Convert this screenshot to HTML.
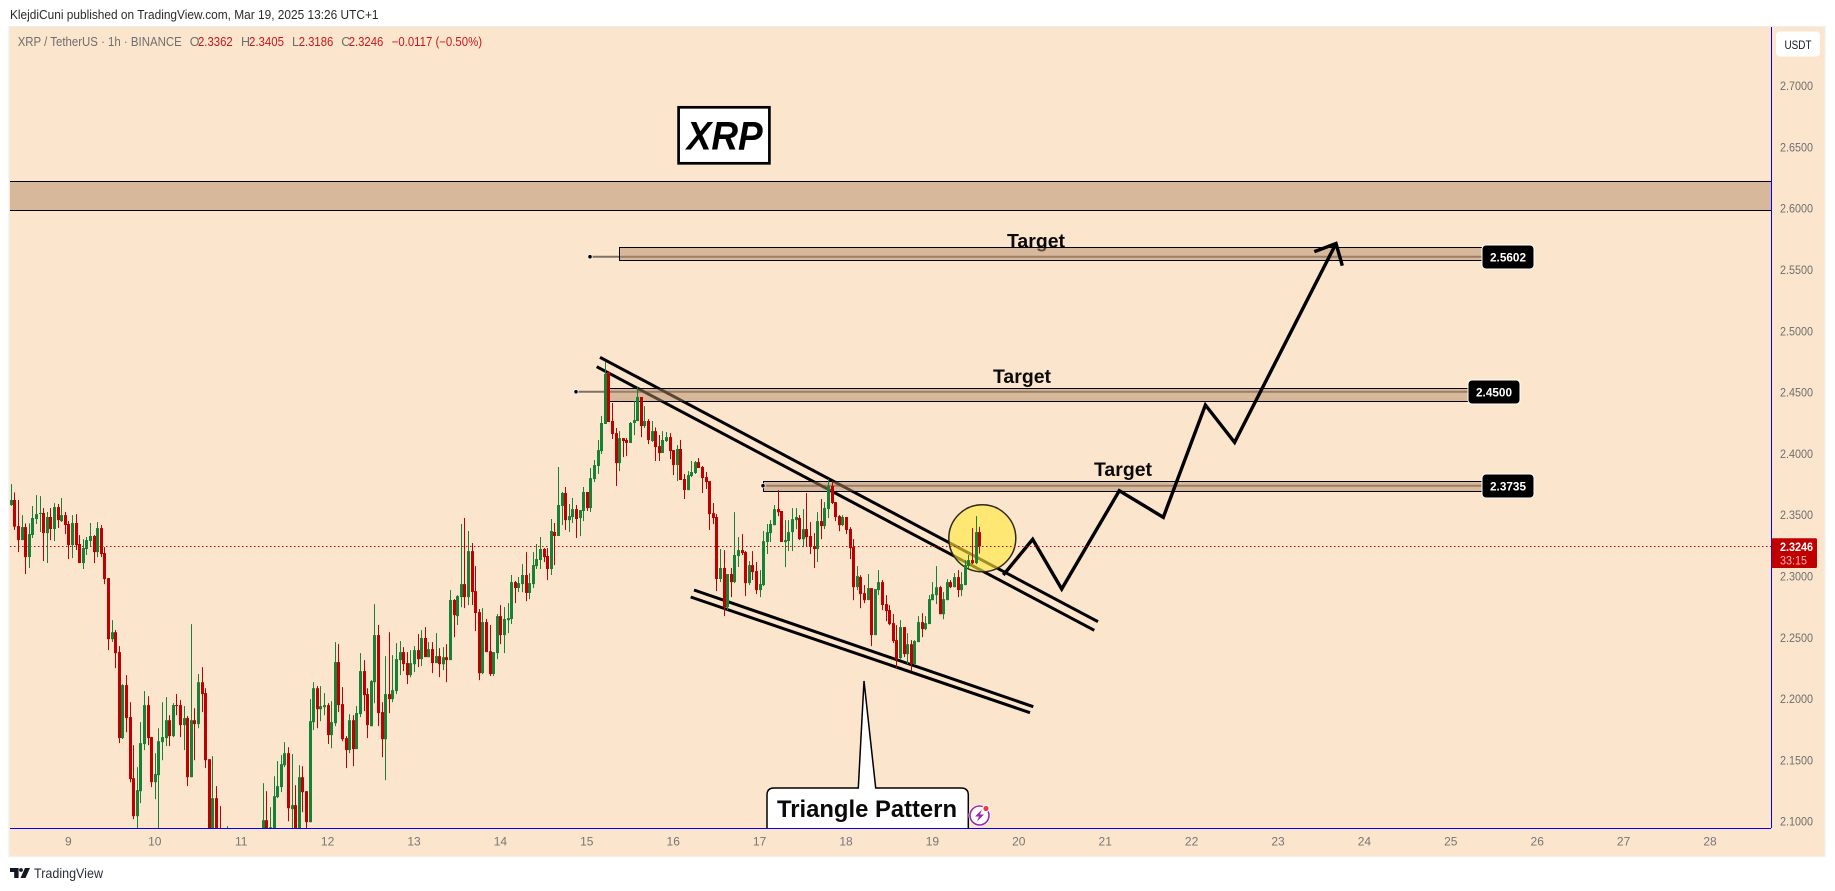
<!DOCTYPE html>
<html lang="en">
<head>
<meta charset="utf-8">
<title>XRP / TetherUS chart</title>
<style>
html,body{margin:0;padding:0;background:#fff;width:1835px;height:891px;overflow:hidden}
svg{display:block}
text{font-family:"Liberation Sans","DejaVu Sans",sans-serif}
</style>
</head>
<body>
<svg id="chart" xmlns="http://www.w3.org/2000/svg" width="1835" height="891" viewBox="0 0 1835 891">
  <defs>
    <clipPath id="plot-clip"><rect x="10" y="26" width="1761" height="802"/></clipPath>
  </defs>
  <text x="10" y="19" font-size="12.5" fill="#2a2a2a" textLength="368.5" lengthAdjust="spacingAndGlyphs">KlejdiCuni published on TradingView.com, Mar 19, 2025 13:26 UTC+1</text>
  <rect x="9" y="26.5" width="1816" height="830" fill="#fce5cd" stroke="#eeeeee" stroke-width="1"/>

  <g font-size="12.5">
    <text x="17.7" y="46" fill="#6e6e6e" textLength="164" lengthAdjust="spacingAndGlyphs">XRP / TetherUS · 1h · BINANCE</text>
    <text x="189.7" y="46" fill="#6e6e6e">O</text>
    <text x="198" y="46" fill="#c8161d" textLength="34.7" lengthAdjust="spacingAndGlyphs">2.3362</text>
    <text x="241" y="46" fill="#6e6e6e">H</text>
    <text x="249" y="46" fill="#c8161d" textLength="35" lengthAdjust="spacingAndGlyphs">2.3405</text>
    <text x="292" y="46" fill="#6e6e6e">L</text>
    <text x="298.7" y="46" fill="#c8161d" textLength="34.6" lengthAdjust="spacingAndGlyphs">2.3186</text>
    <text x="341.3" y="46" fill="#6e6e6e">C</text>
    <text x="348.7" y="46" fill="#c8161d" textLength="34.6" lengthAdjust="spacingAndGlyphs">2.3246</text>
    <text x="391.7" y="46" fill="#c8161d" textLength="90.3" lengthAdjust="spacingAndGlyphs">−0.0117 (−0.50%)</text>
  </g>

  <g clip-path="url(#plot-clip)">
    <g>
      <rect x="678.6" y="107.3" width="90.8" height="56" fill="#fff" stroke="#000" stroke-width="2.7"/>
      <text x="686.7" y="149.3" font-size="40" font-weight="700" font-style="italic" fill="#000" textLength="76" lengthAdjust="spacingAndGlyphs">XRP</text>
    </g>

    <g stroke="#000" stroke-width="3" fill="none">
      <line x1="600" y1="357.3" x2="1098" y2="621.7"/>
      <line x1="596.7" y1="366.7" x2="1094.3" y2="630.3"/>
      <line x1="694" y1="590" x2="1033.3" y2="706.7"/>
      <line x1="690.7" y1="597" x2="1030" y2="712.7"/>
    </g>

    <text x="1007" y="247.5" font-size="19" font-weight="700" fill="#0a0a0a" textLength="58" lengthAdjust="spacingAndGlyphs">Target</text>
    <text x="993" y="383" font-size="19" font-weight="700" fill="#0a0a0a" textLength="58" lengthAdjust="spacingAndGlyphs">Target</text>
    <text x="1094" y="476" font-size="19" font-weight="700" fill="#0a0a0a" textLength="58" lengthAdjust="spacingAndGlyphs">Target</text>

    <rect x="5" y="181.5" width="1770" height="29" fill="rgba(180,140,105,.5)" stroke="#000" stroke-width="1"/>

    <g>
      <line x1="590" y1="256.7" x2="1482" y2="256.7" stroke="rgba(0,0,0,.5)" stroke-width="2"/>
      <rect x="619.5" y="247.5" width="863" height="13" fill="rgba(180,140,105,.5)" stroke="#000" stroke-width="1"/>
      <circle cx="590" cy="256.7" r="2.2" fill="#000" stroke="#fff" stroke-width=".8"/>
    </g>
    <g>
      <line x1="576" y1="391.8" x2="1468" y2="391.8" stroke="rgba(0,0,0,.5)" stroke-width="2"/>
      <rect x="608.5" y="388.5" width="860" height="13" fill="rgba(180,140,105,.5)" stroke="#000" stroke-width="1"/>
      <circle cx="576" cy="391.8" r="2.2" fill="#000" stroke="#fff" stroke-width=".8"/>
    </g>
    <g>
      <line x1="763" y1="485.7" x2="1482" y2="485.7" stroke="rgba(0,0,0,.5)" stroke-width="2"/>
      <rect x="763.5" y="481.5" width="719" height="10" fill="rgba(180,140,105,.5)" stroke="#000" stroke-width="1"/>
      <circle cx="763" cy="485.7" r="2.2" fill="#000" stroke="#fff" stroke-width=".8"/>
    </g>

    <circle cx="982.3" cy="538.3" r="33.5" fill="rgba(255,232,60,.62)" stroke="#2b2a1c" stroke-width="1.5"/>

    <polyline points="1003.3,575 1032.7,539.3 1061.7,589 1119.3,490.7 1163.3,517.3 1205.4,405 1234.6,442.4 1336,243.5" fill="none" stroke="#000" stroke-width="3.4" stroke-linejoin="miter"/>
    <polyline points="1314.3,251.7 1336,243.5 1342.3,265.7" fill="none" stroke="#000" stroke-width="3.4"/>

    <line id="last-price-line" x1="10" x2="1771" stroke="#c00000" stroke-width="1" stroke-dasharray="1.5 2.5"/>

    <g id="candles"></g>

    <path d="M767 835V795Q767 788 774 788H858.3L864 681L875.7 788H961Q968.3 788 968.3 795V835Z" fill="#fff" stroke="#000" stroke-width="1.5"/>
    <text x="777" y="817" font-size="24" font-weight="700" fill="#0a0a0a" textLength="180" lengthAdjust="spacingAndGlyphs">Triangle Pattern</text>
  </g>

  <g>
    <circle cx="979.5" cy="815.5" r="11" fill="#fff"/>
    <circle cx="979.5" cy="815.5" r="9.5" fill="#fff" stroke="#9c27b0" stroke-width="1.6"/>
    <path d="M982 809.5L975 816.5H979L977 821.5L984 814.5H980Z" fill="#9c27b0"/>
    <circle cx="986" cy="808.5" r="3.2" fill="#f23645" stroke="#fff" stroke-width="1.2"/>
  </g>

  <g id="price-axis" font-size="12" fill="#6e6e6e"></g>
  <g id="time-axis" font-size="12" fill="#767676"></g>

  <line x1="1771.5" y1="27" x2="1771.5" y2="828" stroke="#0000ff" stroke-width="1"/>
  <line x1="10" y1="828.5" x2="1771" y2="828.5" stroke="#0000ff" stroke-width="1"/>

  <g>
    <rect x="1482" y="245" width="52" height="24" rx="4" fill="#000" stroke="#fff" stroke-width="1"/>
    <text x="1490" y="261.5" font-size="12" font-weight="700" fill="#fff" textLength="36" lengthAdjust="spacingAndGlyphs">2.5602</text>
  </g>
  <g>
    <rect x="1468" y="380" width="52" height="24" rx="4" fill="#000" stroke="#fff" stroke-width="1"/>
    <text x="1476" y="396.5" font-size="12" font-weight="700" fill="#fff" textLength="36" lengthAdjust="spacingAndGlyphs">2.4500</text>
  </g>
  <g>
    <rect x="1482" y="474" width="52" height="24" rx="4" fill="#000" stroke="#fff" stroke-width="1"/>
    <text x="1490" y="490.5" font-size="12" font-weight="700" fill="#fff" textLength="36" lengthAdjust="spacingAndGlyphs">2.3735</text>
  </g>

  <g>
    <rect x="1771.5" y="538.3" width="45.5" height="29.7" rx="1.5" fill="#c00000"/>
    <text x="1780" y="551" font-size="12" font-weight="700" fill="#fff" textLength="33" lengthAdjust="spacingAndGlyphs">2.3246</text>
    <text x="1780" y="564.3" font-size="12" fill="#f3b3b3" textLength="27" lengthAdjust="spacingAndGlyphs">33:15</text>
  </g>

  <g>
    <rect x="1776" y="31.5" width="44" height="25" rx="4" fill="#fff"/>
    <text x="1798" y="49" font-size="12" fill="#131722" text-anchor="middle" textLength="27" lengthAdjust="spacingAndGlyphs">USDT</text>
  </g>

  <g>
    <path d="M10 868h8.6v10h-4.4v-6H10z" fill="#131722"/>
    <circle cx="21" cy="870" r="1.9" fill="#131722"/>
    <path d="M25 868h5l-4.5 10h-5z" fill="#131722"/>
    <text x="34" y="878" font-size="14" fill="#2a2e39" textLength="69" lengthAdjust="spacingAndGlyphs">TradingView</text>
  </g>
</svg>

<script>
const opens=[
2.3583,2.3624,2.3411,2.3297,2.3403,2.3158,2.3338,2.3469,2.3512,2.3518,
2.3354,2.3485,2.3387,2.3566,2.3452,2.3501,2.3428,2.3256,2.3436,2.3265,
2.3110,2.3224,2.3289,2.3330,2.3199,2.3395,2.3191,2.2987,2.2489,2.2546,
2.2383,2.1682,2.2114,2.1853,2.1355,2.1045,2.1249,2.1633,2.1951,2.1690,
2.1322,2.1380,2.1649,2.1682,2.1828,2.1698,2.1951,2.1951,2.1788,2.1845,
2.1363,2.1828,2.1796,2.2138,2.2049,2.1510,2.0800,2.1192,2.0900,2.0700,
2.0650,2.0800,2.0700,2.0820,2.0720,2.0830,2.0730,2.0840,2.0750,2.0860,
2.0880,2.1012,2.0900,2.0900,2.1200,2.1282,2.1461,2.1559,2.1102,2.1135,
2.0900,2.1363,2.1249,2.0996,2.1812,2.2089,2.1918,2.1934,2.1951,2.1706,
2.1804,2.2302,2.1959,2.1682,2.1584,2.1828,2.1592,2.1877,2.2228,2.2041,
2.1779,2.2138,2.2522,2.1894,2.1673,2.2041,2.2000,2.2065,2.2318,2.2383,
2.2294,2.2196,2.2285,2.2400,2.2326,2.2498,2.2342,2.2408,2.2294,2.2351,
2.2285,2.2342,2.2318,2.2808,2.2677,2.2832,2.2938,2.2832,2.3207,2.2881,
2.2710,2.2212,2.2628,2.2391,2.2204,2.2375,2.2677,2.2522,2.2644,2.2653,
2.2954,2.2906,2.2938,2.3012,2.2865,2.2938,2.3085,2.3134,2.3224,2.3167,
2.3061,2.3363,2.3330,2.3575,2.3681,2.3460,2.3485,2.3550,2.3477,2.3534,
2.3689,2.3558,2.3795,2.3901,2.4023,2.4244,2.4668,2.4268,2.4170,2.3925,
2.4129,2.4113,2.4089,2.4252,2.4268,2.4464,2.4227,2.4268,2.4105,2.4186,
2.4064,2.4007,2.4105,2.4137,2.4031,2.3909,2.4040,2.3795,2.3705,2.3819,
2.3844,2.3933,2.3893,2.3811,2.3778,2.3517,2.3485,2.2979,2.3069,2.2750,
2.3020,2.2954,2.3166,2.3215,2.3199,2.2946,2.3093,2.3044,2.2889,2.2930,
2.3281,2.3354,2.3419,2.3550,2.3534,2.3281,2.3289,2.3362,2.3460,2.3477,
2.3305,2.3387,2.3330,2.3248,2.3224,2.3452,2.3411,2.3550,2.3738,2.3607,
2.3493,2.3419,2.3485,2.3387,2.3240,2.2913,2.2995,2.2865,2.2807,2.2905,
2.2522,2.2889,2.2954,2.2775,2.2726,2.2620,2.2481,2.2334,2.2587,2.2367,
2.2448,2.2285,2.2465,2.2628,2.2571,2.2612,2.2807,2.2848,2.2913,2.2693,
2.2807,2.2954,2.2913,2.2995,2.2889,2.2930,2.3085,2.3134,2.3109,2.3362];
const highs=[
2.3754,2.3686,2.3624,2.3501,2.3433,2.3433,2.3575,2.3664,2.3656,2.3558,
2.3526,2.3558,2.3599,2.3591,2.3640,2.3526,2.3452,2.3501,2.3509,2.3338,
2.3305,2.3322,2.3436,2.3338,2.3444,2.3420,2.3240,2.2987,2.2644,2.2563,
2.2432,2.2122,2.2196,2.1975,2.1624,2.1445,2.1812,2.2065,2.2024,2.1690,
2.1559,2.1763,2.1975,2.2016,2.1869,2.1967,2.2041,2.1992,2.1943,2.1861,
2.2612,2.1926,2.2204,2.2261,2.2089,2.1510,2.1535,2.1290,2.1127,2.0900,
2.0964,2.0850,2.0880,2.0870,2.0890,2.0880,2.0900,2.0900,2.0910,2.0920,
2.1314,2.1249,2.1118,2.1371,2.1494,2.1543,2.1649,2.1608,2.1551,2.1298,
2.1461,2.1453,2.1249,2.2000,2.2138,2.2106,2.2106,2.2049,2.1967,2.1983,
2.2465,2.2449,2.2098,2.1698,2.1877,2.1869,2.1943,2.2375,2.2318,2.2089,
2.2155,2.2775,2.2604,2.1975,2.2351,2.2546,2.2359,2.2457,2.2473,2.2424,
2.2383,2.2400,2.2432,2.2530,2.2563,2.2587,2.2465,2.2465,2.2538,2.2416,
2.2424,2.2449,2.2889,2.2816,2.2848,2.3428,2.3477,2.3371,2.3273,2.3085,
2.2734,2.2742,2.2653,2.2604,2.2383,2.2693,2.2767,2.2750,2.2783,2.3012,
2.2963,2.2995,2.3101,2.3199,2.3028,2.3199,2.3265,2.3322,2.3232,2.3232,
2.3469,2.3436,2.3893,2.3689,2.3730,2.3591,2.3640,2.3583,2.3542,2.3730,
2.3689,2.3885,2.3950,2.4113,2.4309,2.4749,2.4676,2.4415,2.4211,2.4186,
2.4129,2.4129,2.4260,2.4431,2.4545,2.4464,2.4390,2.4284,2.4268,2.4216,
2.4154,2.4186,2.4178,2.4170,2.4031,2.4072,2.4113,2.3836,2.3860,2.3942,
2.3942,2.3966,2.3901,2.3852,2.3778,2.3599,2.3509,2.3224,2.3215,2.3020,
2.3069,2.3525,2.3321,2.3346,2.3207,2.3126,2.3207,2.3118,2.3052,2.3370,
2.3428,2.3460,2.3583,2.3705,2.3534,2.3460,2.3460,2.3558,2.3558,2.3501,
2.3550,2.3681,2.3444,2.3354,2.3525,2.3632,2.3607,2.3795,2.3778,2.3607,
2.3501,2.3501,2.3485,2.3403,2.3305,2.3085,2.3011,2.2930,2.3020,2.2905,
2.2897,2.3052,2.2971,2.2848,2.2767,2.2693,2.2603,2.2644,2.2587,2.2538,
2.2481,2.2481,2.2677,2.2701,2.2677,2.2848,2.2954,2.3085,2.2922,2.2873,
2.2979,2.2971,2.3028,2.3052,2.3036,2.3134,2.3175,2.3395,2.3493,2.3405];
const lows=[
2.3575,2.3379,2.3199,2.3297,2.3020,2.3069,2.3314,2.3428,2.3363,2.3126,
2.3110,2.3297,2.3289,2.3395,2.3444,2.3346,2.3142,2.3150,2.3216,2.3110,
2.3061,2.3175,2.3248,2.3110,2.3158,2.3158,2.2938,2.2400,2.2465,2.2253,
2.1641,2.1673,2.1730,2.1322,2.1021,2.0931,2.1151,2.1584,2.1624,2.1282,
2.1184,2.0917,2.1502,2.1616,2.1616,2.1690,2.1869,2.1690,2.1584,2.1290,
2.1363,2.1502,2.1763,2.1894,2.1437,2.0700,2.0720,2.0750,2.0600,2.0500,
2.0580,2.0620,2.0640,2.0650,2.0660,2.0670,2.0680,2.0700,2.0710,2.0780,
2.0800,2.0820,2.0850,2.0850,2.1192,2.1241,2.1445,2.1004,2.0917,2.0850,
2.0850,2.1078,2.0917,2.0996,2.1747,2.1763,2.1820,2.1869,2.1633,2.1600,
2.1779,2.1894,2.1657,2.1437,2.1559,2.1453,2.1592,2.1853,2.1902,2.1682,
2.1779,2.1967,2.1779,2.1526,2.1339,2.1886,2.1975,2.2041,2.2196,2.2228,
2.2122,2.2179,2.2220,2.2261,2.2269,2.2342,2.2342,2.2212,2.2294,2.2179,
2.2236,2.2138,2.2318,2.2506,2.2604,2.2750,2.2742,2.2767,2.2767,2.2555,
2.2155,2.2204,2.2383,2.2187,2.2187,2.2326,2.2449,2.2375,2.2538,2.2612,
2.2783,2.2873,2.2873,2.2799,2.2816,2.2906,2.3061,2.3061,2.3118,2.2971,
2.3012,2.3093,2.3330,2.3420,2.3379,2.3363,2.3436,2.3314,2.3330,2.3452,
2.3534,2.3526,2.3770,2.3836,2.3999,2.4244,2.4260,2.4121,2.3738,2.3860,
2.3974,2.3982,2.4089,2.4154,2.4268,2.4137,2.4211,2.4080,2.4097,2.3942,
2.3942,2.4007,2.4097,2.3958,2.3827,2.3778,2.3787,2.3632,2.3705,2.3811,
2.3836,2.3885,2.3681,2.3713,2.3379,2.3428,2.2881,2.2954,2.2677,2.2726,
2.2832,2.2946,2.3077,2.3175,2.2840,2.2930,2.2971,2.2856,2.2832,2.2922,
2.3183,2.3281,2.3419,2.3493,2.3281,2.3077,2.3207,2.3207,2.3387,2.3297,
2.3240,2.3248,2.3183,2.3069,2.3118,2.3305,2.3387,2.3477,2.3591,2.3452,
2.3370,2.3411,2.3346,2.3142,2.2807,2.2889,2.2742,2.2783,2.2807,2.2432,
2.2522,2.2848,2.2726,2.2636,2.2603,2.2457,2.2253,2.2318,2.2342,2.2285,
2.2228,2.2277,2.2465,2.2506,2.2563,2.2612,2.2807,2.2775,2.2693,2.2652,
2.2807,2.2905,2.2913,2.2832,2.2840,2.2930,2.3068,2.3101,2.3101,2.3186];
const closes=[
2.3624,2.3406,2.3297,2.3403,2.3158,2.3346,2.3477,2.3509,2.3518,2.3354,
2.3485,2.3387,2.3566,2.3460,2.3501,2.3420,2.3256,2.3436,2.3256,2.3110,
2.3232,2.3297,2.3330,2.3199,2.3395,2.3183,2.2979,2.2489,2.2546,2.2375,
2.1682,2.2114,2.1845,2.1347,2.1045,2.1257,2.1641,2.1951,2.1682,2.1322,
2.1388,2.1657,2.1690,2.1828,2.1698,2.1951,2.1943,2.1788,2.1845,2.1363,
2.1828,2.1796,2.2138,2.2041,2.1502,2.0800,2.1192,2.0850,2.0700,2.0600,
2.0800,2.0700,2.0820,2.0720,2.0830,2.0730,2.0840,2.0750,2.0860,2.0880,
2.1012,2.0900,2.0955,2.1208,2.1290,2.1469,2.1559,2.1110,2.1135,2.0900,
2.1363,2.1241,2.0996,2.1820,2.2089,2.1918,2.1943,2.1951,2.1706,2.1812,
2.2302,2.1951,2.1673,2.1584,2.1828,2.1592,2.1886,2.2228,2.2032,2.1788,
2.2147,2.2522,2.1886,2.1673,2.2041,2.2000,2.2073,2.2326,2.2383,2.2285,
2.2196,2.2294,2.2400,2.2326,2.2498,2.2342,2.2408,2.2294,2.2351,2.2285,
2.2342,2.2318,2.2808,2.2685,2.2840,2.2938,2.2832,2.3207,2.2873,2.2702,
2.2212,2.2628,2.2383,2.2204,2.2383,2.2677,2.2522,2.2653,2.2661,2.2954,
2.2906,2.2946,2.3012,2.2865,2.2946,2.3093,2.3142,2.3224,2.3158,2.3061,
2.3371,2.3330,2.3583,2.3681,2.3460,2.3493,2.3550,2.3469,2.3542,2.3689,
2.3558,2.3803,2.3909,2.4031,2.4252,2.4652,2.4260,2.4162,2.3925,2.4129,
2.4105,2.4089,2.4252,2.4276,2.4464,2.4227,2.4268,2.4113,2.4186,2.4056,
2.4007,2.4113,2.4137,2.4023,2.3909,2.4040,2.3787,2.3705,2.3827,2.3852,
2.3933,2.3885,2.3803,2.3770,2.3509,2.3477,2.2979,2.3069,2.2750,2.3020,
2.2954,2.3175,2.3215,2.3191,2.2946,2.3093,2.3036,2.2889,2.2938,2.3289,
2.3362,2.3428,2.3550,2.3525,2.3281,2.3297,2.3362,2.3468,2.3485,2.3305,
2.3387,2.3321,2.3240,2.3224,2.3452,2.3411,2.3558,2.3738,2.3599,2.3485,
2.3419,2.3485,2.3379,2.3232,2.2913,2.3003,2.2856,2.2807,2.2905,2.2522,
2.2897,2.2954,2.2767,2.2718,2.2612,2.2473,2.2326,2.2587,2.2367,2.2448,
2.2285,2.2473,2.2628,2.2571,2.2620,2.2816,2.2856,2.2913,2.2693,2.2816,
2.2954,2.2913,2.2995,2.2889,2.2938,2.3093,2.3134,2.3109,2.3362,2.3246];
const priceTicks=["2.7000","2.6500","2.6000","2.5500","2.5000","2.4500","2.4000","2.3500","2.3000","2.2500","2.2000","2.1500","2.1000"];
const dayTicks=[9,10,11,12,13,14,15,16,17,18,19,20,21,22,23,24,25,26,27,28];
const firstCandleHourOffset=-16;

const SVG_NS="http://www.w3.org/2000/svg";
function yOf(price){return 270+(2.55-price)*1226;}
function xOfHour(hour){return 68.4+hour*3.6;}
function xOfDay(day){return xOfHour((day-9)*24);}
function xOfCandle(i){return xOfHour(i+firstCandleHourOffset);}

const candleLayer=document.getElementById('candles');
opens.forEach(function(open,i){
  const close=closes[i];
  const up=close>=open;
  const color=up?'#178236':'#c00000';
  const cx=Math.round(xOfCandle(i));
  const group=document.createElementNS(SVG_NS,'g');
  
  
  const wick=document.createElementNS(SVG_NS,'rect');
  
  
  wick.setAttribute('x',cx);
  wick.setAttribute('width',1);
  wick.setAttribute('y',yOf(highs[i]).toFixed(1));
  wick.setAttribute('height',(yOf(lows[i])-yOf(highs[i])).toFixed(1));
  wick.setAttribute('fill',color);
  const body=document.createElementNS(SVG_NS,'rect');
  
  
  const top=yOf(Math.max(open,close));
  const bottom=yOf(Math.min(open,close));
  body.setAttribute('x',cx-1);
  body.setAttribute('width',3);
  body.setAttribute('y',top.toFixed(1));
  body.setAttribute('height',Math.max(1,bottom-top).toFixed(1));
  body.setAttribute('fill',color);
  group.appendChild(wick);
  group.appendChild(body);
  candleLayer.appendChild(group);
});

const lastLine=document.getElementById('last-price-line');
const lastY=(Math.round(yOf(closes[closes.length-1]))+0.5);
lastLine.setAttribute('y1',lastY);
lastLine.setAttribute('y2',lastY);

const priceAxis=document.getElementById('price-axis');
priceTicks.forEach(function(label){
  const t=document.createElementNS(SVG_NS,'text');
  
  
  t.setAttribute('x',1780);
  t.setAttribute('y',(yOf(parseFloat(label))+4).toFixed(1));
  t.setAttribute('textLength',33);
  t.setAttribute('lengthAdjust','spacingAndGlyphs');
  t.textContent=label;
  priceAxis.appendChild(t);
});

const timeAxis=document.getElementById('time-axis');
dayTicks.forEach(function(day){
  const t=document.createElementNS(SVG_NS,'text');
  
  
  t.setAttribute('x',xOfDay(day).toFixed(1));
  t.setAttribute('y',845.5);
  t.setAttribute('text-anchor','middle');
  t.textContent=day;
  timeAxis.appendChild(t);
});
</script>
</body>
</html>
